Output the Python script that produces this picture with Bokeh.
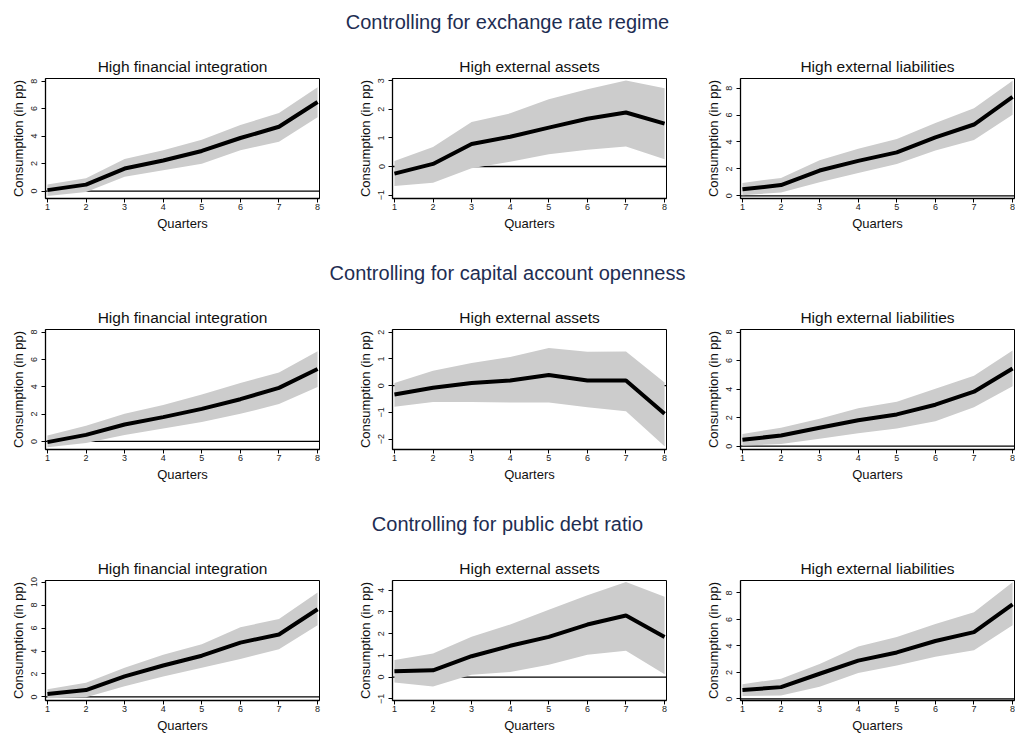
from bokeh.plotting import figure
from bokeh.layouts import column, row
from bokeh.models import Div, FixedTicker, Range1d, Span
from bokeh.embed import file_html
from bokeh.resources import INLINE

quarters = [1, 2, 3, 4, 5, 6, 7, 8]

sections = [
    "Controlling for exchange rate regime",
    "Controlling for capital account openness",
    "Controlling for public debt ratio",
]
panel_titles = ["High financial integration", "High external assets", "High external liabilities"]

# exchange rate regime
er_fin_mid = [0.07, 0.47, 1.64, 2.22, 2.92, 3.86, 4.68, 6.48]
er_fin_hi = [0.47, 0.94, 2.34, 2.97, 3.74, 4.80, 5.68, 7.56]
er_fin_lo = [-0.35, -0.07, 1.05, 1.52, 1.99, 2.97, 3.58, 5.38]

er_ast_mid = [-0.25, 0.09, 0.79, 1.04, 1.36, 1.67, 1.89, 1.50]
er_ast_hi = [0.19, 0.68, 1.56, 1.86, 2.35, 2.70, 3.01, 2.74]
er_ast_lo = [-0.68, -0.57, -0.06, 0.17, 0.43, 0.59, 0.70, 0.25]

er_lia_mid = [0.48, 0.80, 1.88, 2.60, 3.23, 4.34, 5.30, 7.35]
er_lia_hi = [0.96, 1.33, 2.65, 3.49, 4.22, 5.42, 6.50, 8.55]
er_lia_lo = [0.05, 0.24, 1.01, 1.69, 2.36, 3.37, 4.14, 6.02]

# capital account openness
ka_fin_mid = [-0.05, 0.48, 1.24, 1.78, 2.38, 3.09, 3.92, 5.30]
ka_fin_hi = [0.43, 1.14, 2.02, 2.66, 3.44, 4.28, 5.04, 6.60]
ka_fin_lo = [-0.43, -0.12, 0.48, 0.95, 1.43, 2.02, 2.73, 3.99]

ka_ast_mid = [-0.33, -0.08, 0.10, 0.19, 0.40, 0.19, 0.19, -1.05]
ka_ast_hi = [0.10, 0.56, 0.85, 1.07, 1.41, 1.27, 1.28, 0.12]
ka_ast_lo = [-0.79, -0.61, -0.61, -0.63, -0.63, -0.81, -0.96, -2.27]

ka_lia_mid = [0.45, 0.75, 1.30, 1.82, 2.23, 2.91, 3.82, 5.45]
ka_lia_hi = [0.86, 1.30, 1.93, 2.66, 3.11, 4.02, 4.93, 6.70]
ka_lia_lo = [0.05, 0.16, 0.52, 0.91, 1.25, 1.75, 2.73, 4.20]

# public debt ratio
pd_fin_mid = [0.26, 0.60, 1.79, 2.74, 3.59, 4.73, 5.44, 7.64]
pd_fin_hi = [0.66, 1.23, 2.54, 3.68, 4.59, 6.07, 6.78, 9.09]
pd_fin_lo = [-0.11, -0.03, 0.94, 1.79, 2.54, 3.30, 4.16, 6.24]

pd_ast_mid = [0.27, 0.31, 0.96, 1.44, 1.85, 2.42, 2.84, 1.85]
pd_ast_hi = [0.79, 1.09, 1.86, 2.42, 3.10, 3.77, 4.38, 3.70]
pd_ast_lo = [-0.25, -0.44, 0.11, 0.23, 0.57, 1.03, 1.21, 0.13]

pd_lia_mid = [0.67, 0.89, 1.90, 2.89, 3.51, 4.37, 5.04, 7.14]
pd_lia_hi = [1.11, 1.53, 2.64, 3.95, 4.67, 5.65, 6.54, 8.81]
pd_lia_lo = [0.22, 0.25, 0.91, 1.95, 2.52, 3.19, 3.68, 5.56]

y_ticks = [
    [[0, 2, 4, 6, 8], [-1, 0, 1, 2, 3], [0, 2, 4, 6, 8]],
    [[0, 2, 4, 6, 8], [-2, -1, 0, 1, 2], [0, 2, 4, 6, 8]],
    [[0, 2, 4, 6, 8, 10], [-1, 0, 1, 2, 3, 4], [0, 2, 4, 6, 8]],
]
y_lims = [
    [(-0.54, 8.19), (-1.12, 3.08), (-0.2, 8.72)],
    [(-0.59, 8.19), (-2.39, 2.1), (-0.23, 8.18)],
    [(-0.31, 10.14), (-1.08, 4.45), (-0.12, 8.94)],
]
series = [
    [(er_fin_mid, er_fin_lo, er_fin_hi), (er_ast_mid, er_ast_lo, er_ast_hi), (er_lia_mid, er_lia_lo, er_lia_hi)],
    [(ka_fin_mid, ka_fin_lo, ka_fin_hi), (ka_ast_mid, ka_ast_lo, ka_ast_hi), (ka_lia_mid, ka_lia_lo, ka_lia_hi)],
    [(pd_fin_mid, pd_fin_lo, pd_fin_hi), (pd_ast_mid, pd_ast_lo, pd_ast_hi), (pd_lia_mid, pd_lia_lo, pd_lia_hi)],
]

FONT = "Liberation Sans"
FRAME_W = 274
FRAME_H = 122
TOP, BOTTOM = 28, 33
BORDERS = [(45, 3), (70, 3), (71, 1)]
PAGE_W = sum(l + FRAME_W + r for l, r in BORDERS)


def panel(title, mid, lo, hi, ylim, yticks, col):
    left, right = BORDERS[col]
    p = figure(width=left + FRAME_W + right, height=TOP + FRAME_H + BOTTOM,
               x_range=Range1d(0.95, 8.05), y_range=Range1d(*ylim),
               output_backend="svg", toolbar_location=None,
               min_border_left=left, min_border_right=right,
               min_border_top=TOP, min_border_bottom=BOTTOM)
    p.title.text = title
    p.title.align = "center"
    p.title.text_font = FONT
    p.title.text_font_size = "15.5px"
    p.title.text_font_style = "normal"
    p.title.text_color = "#111111"
    p.title.standoff = 7

    zero = Span(location=0, dimension="width", line_color="black",
                line_width=1.3, level="underlay")
    p.add_layout(zero)
    p.varea(x=quarters, y1=lo, y2=hi, fill_color="#cccccc")
    p.line(quarters, mid, line_color="black", line_width=4)

    p.xgrid.visible = False
    p.ygrid.visible = False
    p.outline_line_color = "black"
    p.outline_line_width = 1

    p.xaxis.ticker = FixedTicker(ticks=quarters)
    p.yaxis.ticker = FixedTicker(ticks=yticks)
    p.xaxis.axis_label = "Quarters"
    p.yaxis.axis_label = "Consumption (in pp)"
    p.yaxis.major_label_orientation = "vertical"
    for ax in (p.xaxis, p.yaxis):
        ax.axis_line_color = "black"
        ax.axis_line_width = 1.3
        ax.major_tick_line_color = "black"
        ax.major_tick_out = 4
        ax.major_tick_in = 0
        ax.minor_tick_line_color = None
        ax.major_label_text_font = FONT
        ax.major_label_text_font_size = "9px"
        ax.major_label_text_color = "#222222"
        ax.axis_label_text_font = FONT
        ax.axis_label_text_font_size = "13px"
        ax.axis_label_text_font_style = "normal"
        ax.axis_label_text_color = "#111111"
    p.xaxis.major_label_standoff = 1
    p.xaxis.axis_label_standoff = 3
    p.yaxis.major_label_standoff = 4
    p.yaxis.axis_label_standoff = 3
    return p


items = []
for r, section in enumerate(sections):
    div_h = 50 if r == 0 else 68
    pad = 10 if r == 0 else 28
    items.append(Div(
        text=f'<div style="width:{PAGE_W}px;text-align:center;font-family:\'{FONT}\';'
             f'font-size:20px;line-height:24px;color:#1e2d52;padding-top:{pad}px">{section}</div>',
        width=PAGE_W, height=div_h, margin=0))
    figs = []
    for c in range(3):
        mid, lo, hi = series[r][c]
        figs.append(panel(panel_titles[c], mid, lo, hi, y_lims[r][c], y_ticks[r][c], c))
    items.append(row(*figs))

layout = column(*items)
open("out.html", "w").write(file_html(layout, INLINE))
